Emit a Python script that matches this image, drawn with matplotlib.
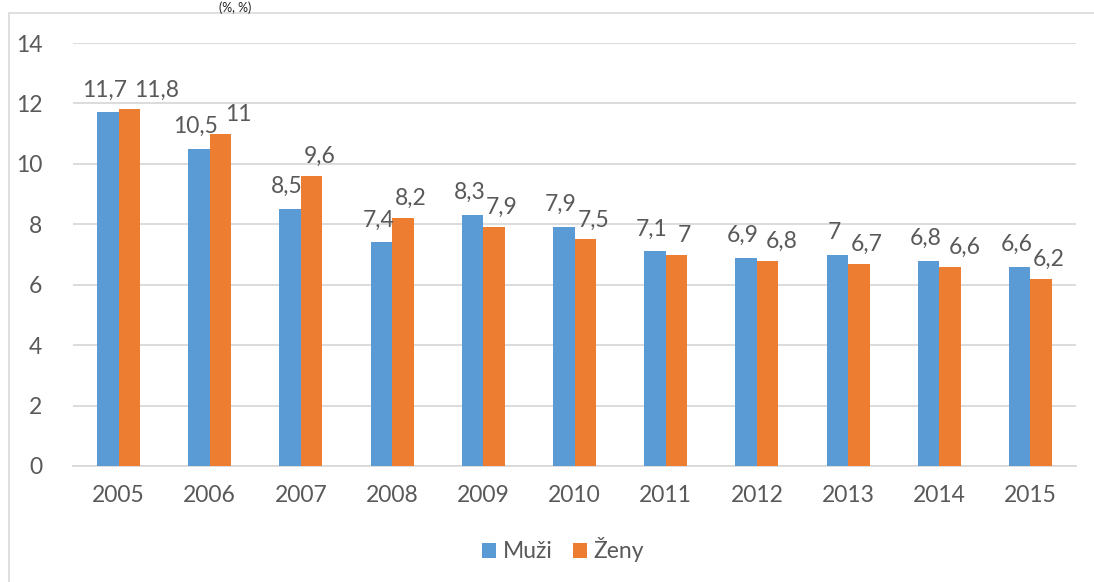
import matplotlib
matplotlib.use("Agg")
import matplotlib.pyplot as plt
import numpy as np
from matplotlib.patches import Rectangle

years = ["2005", "2006", "2007", "2008", "2009", "2010",
         "2011", "2012", "2013", "2014", "2015"]
muzi = [11.7, 10.5, 8.5, 7.4, 8.3, 7.9, 7.1, 6.9, 7.0, 6.8, 6.6]
zeny = [11.8, 11.0, 9.6, 8.2, 7.9, 7.5, 7.0, 6.8, 6.7, 6.6, 6.2]

BLUE = "#5B9BD5"
ORANGE = "#ED7D31"
TEXT = "#595959"
GRID = "#D9D9D9"
FS = 16.5

plt.rcParams["font.family"] = ["Lato", "DejaVu Sans"]

fig = plt.figure(figsize=(10.94, 5.82), dpi=100)
ax = fig.add_axes([73 / 1094, 1 - 466 / 582, 1003 / 1094, 423 / 582])

# chart frame (cut off on right / bottom in the source)
fig.patches.append(Rectangle((9 / 1094, -0.1), 1.2, 1 - 13 / 582 + 0.1,
                             transform=fig.transFigure, fill=False,
                             edgecolor=GRID, linewidth=1.2))
fig.text(235 / 1094, 1 - 1 / 582, "(%, %)", ha="center", va="top",
         fontsize=9, color="#222222")

x = np.arange(len(years))
w = 0.236
b1 = ax.bar(x - w / 2, muzi, w, color=BLUE, label="Muži", zorder=3)
b2 = ax.bar(x + w / 2, zeny, w, color=ORANGE, label="Ženy", zorder=3)

def fmt(v):
    return f"{v:g}".replace(".", ",")

blue_labels = []
for rect, v in zip(b1, muzi):
    blue_labels.append(ax.annotate(
        fmt(v), (rect.get_x() + rect.get_width() / 2, v),
        xytext=(-3, 12), textcoords="offset pixels",
        ha="center", va="bottom", fontsize=FS, color=TEXT))
orange_labels = []
for rect, v in zip(b2, zeny):
    orange_labels.append(ax.annotate(
        fmt(v), (rect.get_x() + rect.get_width() / 2, v),
        xytext=(8, 9), textcoords="offset pixels",
        ha="center", va="bottom", fontsize=FS, color=TEXT))

ax.set_xlim(-0.5, len(years) - 0.5)
ax.set_ylim(0, 14)
ax.set_yticks(range(0, 15, 2))
ax.set_xticks(x)
ax.set_xticklabels(years)
ax.yaxis.grid(True, color=GRID, linewidth=1.3, zorder=0)
ax.set_axisbelow(True)
for s in ["top", "right", "left"]:
    ax.spines[s].set_visible(False)
ax.spines["bottom"].set_color(GRID)
ax.spines["bottom"].set_linewidth(1.3)
ax.tick_params(axis="both", length=0, labelsize=FS, labelcolor=TEXT)
ax.tick_params(axis="y", pad=22)
ax.tick_params(axis="x", pad=14)

fig.legend(loc="center", bbox_to_anchor=(563 / 1094, 1 - 550 / 582), ncol=2,
           frameon=False, fontsize=FS, handlelength=0.6, handleheight=0.6,
           handletextpad=0.3, columnspacing=0.9, labelcolor=TEXT)

# push orange labels right where they collide with the blue ones
fig.canvas.draw()
r = fig.canvas.get_renderer()
for bl, ol in zip(blue_labels, orange_labels):
    be = bl.get_window_extent(r)
    oe = ol.get_window_extent(r)
    if be.overlaps(oe) or (0 <= oe.x0 - be.x1 < 4 and abs(oe.y0 - be.y0) < 12):
        dx, dy = ol.xyann
        ol.xyann = (dx + (be.x1 - oe.x0) + 7, dy)

fig.savefig("out.png", dpi=100)
